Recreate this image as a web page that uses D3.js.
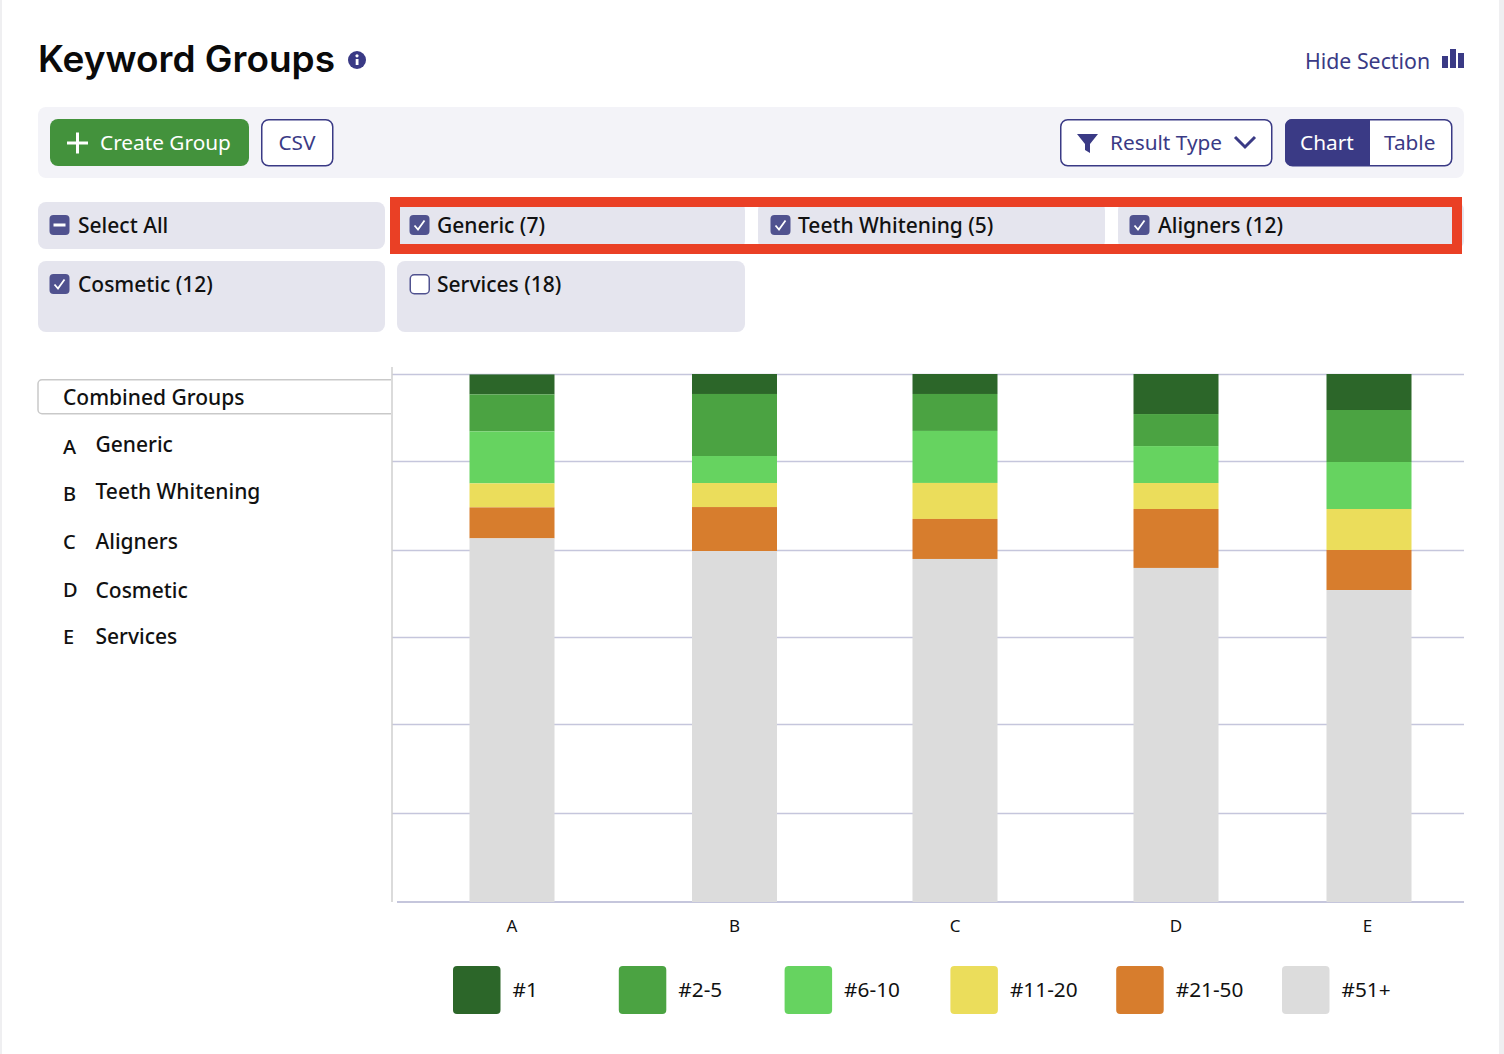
<!DOCTYPE html>
<html>
<head>
<meta charset="utf-8">
<title>Keyword Groups</title>
<script src="https://cdn.jsdelivr.net/npm/d3@7"></script>
<style>
html, body { margin: 0; padding: 0; background: #fff; overflow: hidden; }
text { font-family: "Noto Sans", sans-serif; }
.grid .domain { display: none; }
.grid line { stroke: #c5c6dc; stroke-width: 1.5; }
.xaxis .domain, .xaxis line { display: none; }
.xaxis text { font-size: 17px; fill: #111; }
</style>
</head>
<body>
<script>
// Chart data, share of keywords per rank bucket
var groups = ["A", "B", "C", "D", "E"];
var groupNames = ["Generic", "Teeth Whitening", "Aligners", "Cosmetic", "Services"];
var buckets = ["#1", "#2-5", "#6-10", "#11-20", "#21-50", "#51+"];
var bucketColors = ["#2c6629", "#4ba342", "#66d360", "#ebdd5b", "#d77d2d", "#dcdcdc"];
var rank1 = [2.27, 2.27, 2.27, 4.55, 4.09];
var rank2to5 = [4.2, 7.05, 4.2, 3.64, 5.91];
var rank6to10 = [5.91, 3.07, 5.91, 4.2, 5.34];
var rank11to20 = [2.73, 2.73, 4.09, 2.95, 4.66];
var rank21to50 = [3.52, 5.0, 4.55, 6.7, 4.55];
var rank51plus = [41.32, 39.88, 38.98, 37.96, 35.45];
var yTicks = [10.11, 20.23, 30.11, 40, 50.11, 60]; // gridlines are slightly uneven in the picture

var navy = "#3a3a85", boxBlue = "#50528f", chip = "#e5e5ee";
var bodySize = 21, barSize = 20.8;

var svg = d3.select("body").append("svg")
	.attr("width", 1504)
	.attr("height", 1054)
	.style("display", "block");

// page edges
svg.append("rect").attr("x", 0).attr("y", 0).attr("width", 2).attr("height", 1054).attr("fill", "#efeff1");
svg.append("rect").attr("x", 1499).attr("y", 0).attr("width", 5).attr("height", 1054).attr("fill", "#efeff1");

function box(x, y, w, h, r, fill, stroke) {
	return svg.append("rect")
		.attr("x", x).attr("y", y).attr("width", w).attr("height", h).attr("rx", r)
		.attr("fill", fill)
		.attr("stroke", stroke || "none")
		.attr("stroke-width", stroke ? 1.5 : 0);
}

function label(x, y, s, size, color, anchor, weight) {
	return svg.append("text")
		.attr("x", x).attr("y", y)
		.attr("dy", "0.35em")
		.attr("font-size", size)
		.attr("font-weight", weight || 400)
		.attr("fill", color)
		.attr("text-anchor", anchor || "start")
		.text(s);
}

function checkbox(x, y, state) {
	box(x + (state == "off" ? 0.75 : 0), y + (state == "off" ? 0.75 : 0), state == "off" ? 19 : 20, state == "off" ? 19 : 20, 4,
		state == "off" ? "#fff" : boxBlue, state == "off" ? boxBlue : null);
	if (state == "on") {
		svg.append("path")
			.attr("d", "M" + (x + 5) + "," + (y + 10.5) + "l3.5,4l6.5,-9")
			.attr("fill", "none").attr("stroke", "#fff").attr("stroke-width", 1.8);
	}
	if (state == "some") {
		svg.append("rect").attr("x", x + 4).attr("y", y + 8.5).attr("width", 12).attr("height", 3).attr("fill", "#fff");
	}
}

// title row
svg.append("text")
	.attr("x", 38).attr("y", 72)
	.style("font-family", "Inter, sans-serif")
	.attr("font-weight", 600)
	.attr("font-size", 37)
	.attr("fill", "#0a0a0a")
	.text("Keyword Groups");
svg.append("circle").attr("cx", 357).attr("cy", 60).attr("r", 9).attr("fill", navy);
svg.append("rect").attr("x", 355.7).attr("y", 59).attr("width", 2.8).attr("height", 6).attr("fill", "#fff");
svg.append("circle").attr("cx", 357).attr("cy", 55.8).attr("r", 1.6).attr("fill", "#fff");
label(1305, 61.5, "Hide Section", 21.3, navy);
svg.append("path").attr("d", "M1442,56h6v12h-6zM1450,49h6v19h-6zM1458,53h6v15h-6z").attr("fill", navy);

// toolbar
box(38, 107, 1426, 71, 8, "#f3f3f8");
box(50, 119, 199, 47, 8, "#43923c");
svg.append("path").attr("d", "M67,143h21M77.5,132.5v21").attr("stroke", "#fff").attr("stroke-width", 3);
label(100, 143, "Create Group", barSize, "#fff");
box(261.75, 119.75, 71, 46, 7, "#fff", navy);
label(297, 143, "CSV", barSize, navy, "middle");
box(1060.75, 119.75, 211, 46, 7, "#fff", navy);
svg.append("path").attr("d", "M1077,134h21l-8,10v9l-5,-3v-6z").attr("fill", navy);
label(1110, 143, "Result Type", barSize, navy);
svg.append("path").attr("d", "M1235,137l10,10l10,-10").attr("fill", "none").attr("stroke", navy).attr("stroke-width", 3);
box(1285.75, 119.75, 166, 46, 7, "#fff", navy);
svg.append("path").attr("d", "M1370,119h-78a7,7 0 0 0 -7,7v33a7,7 0 0 0 7,7h78z").attr("fill", navy);
label(1300, 143, "Chart", barSize, "#fff");
label(1384, 143, "Table", barSize, navy);

// group chips, red frame goes over the first row
box(38, 202, 347, 47, 8, chip);
box(397, 202, 348, 47, 8, chip);
box(758, 202, 347, 47, 8, chip);
box(1118, 202, 346, 47, 8, chip);
box(38, 261, 347, 71, 8, chip);
box(397, 261, 348, 71, 8, chip);
svg.append("rect").attr("x", 395).attr("y", 202).attr("width", 1062).attr("height", 47)
	.attr("fill", "none").attr("stroke", "#ea4025").attr("stroke-width", 10);

checkbox(49.5, 215, "some");
label(78, 225.5, "Select All", bodySize, "#111", "start", 500);
checkbox(409.5, 215, "on");
label(437, 225.5, "Generic (7)", bodySize, "#111", "start", 500);
checkbox(770.5, 215, "on");
label(798, 225.5, "Teeth Whitening (5)", bodySize, "#111", "start", 500);
checkbox(1129.5, 215, "on");
label(1158, 225.5, "Aligners (12)", bodySize, "#111", "start", 500);
checkbox(49.5, 274, "on");
label(78, 284.5, "Cosmetic (12)", bodySize, "#111", "start", 500);
checkbox(409.5, 274, "off");
label(437, 284.5, "Services (18)", bodySize, "#111", "start", 500);

// group list on the left
svg.append("path").attr("d", "M391,379.75H42a4,4 0 0 0 -4,4v26a4,4 0 0 0 4,4H391")
	.attr("fill", "#fff").attr("stroke", "#c9c9c9").attr("stroke-width", 1.5);
label(63, 397.5, "Combined Groups", bodySize, "#111", "start", 500);
var listY = d3.scaleOrdinal().domain(groups).range([445, 492, 542, 591, 637]);
var letterY = d3.scaleOrdinal().domain(groups).range([447, 494, 541.5, 589.5, 636.5]);
groups.forEach(function (g, i) {
	label(63, letterY(g), g, 20, "#111", "start", 500);
	label(95.5, listY(g), groupNames[i], bodySize, "#111", "start", 500);
});

// chart: the bars are not evenly spaced in the picture, so x is an ordinal scale
var x = d3.scaleOrdinal().domain(groups).range([512, 734.5, 955, 1176, 1369]);
var barWidth = 85;
var y = d3.scaleLinear().domain([0, 60]).range([902, 374]);

svg.append("g").attr("class", "grid")
	.attr("transform", "translate(392,0)")
	.call(d3.axisRight(y).tickValues(yTicks).tickSize(1072).tickFormat(""));
svg.append("line").attr("x1", 397).attr("x2", 1464).attr("y1", y(0)).attr("y2", y(0))
	.attr("stroke", "#c5c6dc").attr("stroke-width", 2);
svg.append("line").attr("x1", 392).attr("x2", 392).attr("y1", 367).attr("y2", 902)
	.attr("stroke", "#cfcfcf").attr("stroke-width", 1.5);

var rows = groups.map(function (g, i) {
	return { group: g, "#1": rank1[i], "#2-5": rank2to5[i], "#6-10": rank6to10[i],
		"#11-20": rank11to20[i], "#21-50": rank21to50[i], "#51+": rank51plus[i] };
});
var stacked = d3.stack().keys(buckets).order(d3.stackOrderReverse)(rows);

svg.append("g").selectAll("g")
	.data(stacked)
	.enter().append("g")
	.attr("fill", function (d) { return bucketColors[buckets.indexOf(d.key)]; })
	.selectAll("rect")
	.data(function (d) { return d; })
	.enter().append("rect")
	.attr("x", function (d) { return x(d.data.group) - barWidth / 2; })
	.attr("y", function (d) { return y(d[1]); })
	.attr("width", barWidth)
	.attr("height", function (d) { return y(d[0]) - y(d[1]); });

var xAxis = svg.append("g").attr("class", "xaxis")
	.attr("transform", "translate(0,902)")
	.call(d3.axisBottom(x).tickSize(0).tickPadding(18));
xAxis.selectAll("text").attr("dx", function (d) { return d == "E" ? -2 : -0.5; });

// legend
var legendX = d3.scalePoint().domain(buckets).range([453, 1282]);
var legend = svg.append("g").selectAll("g")
	.data(buckets)
	.enter().append("g")
	.attr("transform", function (d) { return "translate(" + legendX(d) + ",966)"; });
legend.append("rect")
	.attr("width", 47.5).attr("height", 48).attr("rx", 4)
	.attr("fill", function (d, i) { return bucketColors[i]; });
legend.append("text")
	.attr("x", 59.5).attr("y", 24).attr("dy", "0.35em")
	.attr("font-size", 20.8).attr("fill", "#111")
	.text(function (d) { return d; });
</script>
</body>
</html>
